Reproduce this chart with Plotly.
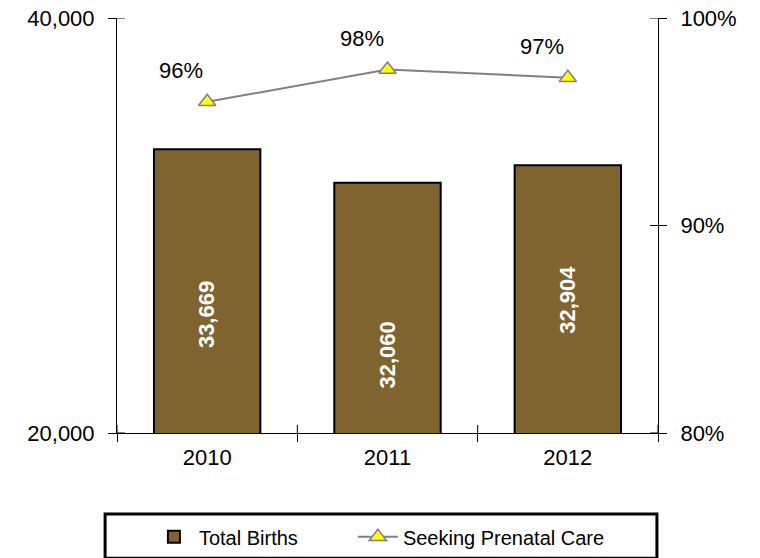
import plotly.graph_objects as go

# data
years = ["2010", "2011", "2012"]
total_births = [33669, 32060, 32904]
prenatal_share = [0.9596, 0.9752, 0.9712]

# where the white labels sit inside the bars (y, births axis units)
bar_label_y = [25690, 23760, 26410]

BROWN = "#806430"
FONT = "Liberation Sans, Arial, sans-serif"

fig = go.Figure()

fig.add_trace(go.Bar(
    x=years, y=total_births,
    name="Total Births",
    marker=dict(color=BROWN, line=dict(color="black", width=2)),
    width=0.59,
    legend="legend",
))

fig.add_trace(go.Scatter(
    x=years, y=prenatal_share,
    name="Seeking Prenatal Care",
    yaxis="y2",
    mode="lines+markers",
    line=dict(color="#808080", width=2),
    marker=dict(symbol="triangle-up", size=15, color="#FFFF00",
                line=dict(color="#808080", width=1.5)),
    legend="legend2",
))

# percent labels above-left of each point (category index as x)
for i, v in enumerate(prenatal_share):
    fig.add_annotation(
        x=i, y=v, xref="x", yref="y2", text=f"{v:.0%}", showarrow=False,
        xshift=-26, yshift=31,
        font=dict(family=FONT, size=22, color="black"),
    )

# rotated white value labels inside the bars
for i, (v, ly) in enumerate(zip(total_births, bar_label_y)):
    fig.add_annotation(
        x=i, y=ly, xref="x", yref="y", text=f"<b>{v:,}</b>", showarrow=False,
        textangle=-90,
        font=dict(family="Liberation Sans Narrow, Arial Narrow, Liberation Sans, sans-serif",
                  size=22, color="white"),
    )

# inner half of the crossing tick marks
tick_line = dict(color="black", width=1)
for v in [20000, 40000]:
    fig.add_shape(type="line", xref="paper", xsizemode="pixel", xanchor=0,
                  x0=0, x1=8, yref="y", y0=v, y1=v, line=tick_line)
for v in [0.8, 0.9, 1.0]:
    fig.add_shape(type="line", xref="paper", xsizemode="pixel", xanchor=1,
                  x0=-8, x1=0, yref="y2", y0=v, y1=v, line=tick_line)
for i in range(len(years) + 1):
    b = i / len(years)
    fig.add_shape(type="line", xref="x domain", x0=b, x1=b, yref="paper",
                  ysizemode="pixel", yanchor=0, y0=0, y1=8, line=tick_line)

# legend frame
fig.add_shape(type="rect", xref="paper", yref="paper",
              x0=-0.022, x1=0.998, y0=-0.302, y1=-0.195,
              line=dict(color="black", width=3), fillcolor="white", layer="below")

legend_style = dict(orientation="h", xanchor="left", y=-0.25, yanchor="middle",
                    font=dict(size=20), bgcolor="rgba(0,0,0,0)", itemwidth=40)

# page body adds an 8px offset, so the figure is 8px smaller than the window
fig.update_layout(
    width=752, height=550,
    margin=dict(l=109, r=102, t=10, b=125, autoexpand=False),
    plot_bgcolor="white", paper_bgcolor="white",
    font=dict(family=FONT, size=22, color="black"),
    showlegend=True,
    legend=dict(x=0.059, **legend_style),
    legend2=dict(x=0.436, **legend_style),
    bargap=0.41,
    xaxis=dict(type="category", range=[-0.5, 2.5], showline=True, linecolor="black",
               linewidth=1, ticks="outside", ticklen=8, tickcolor="black",
               tickson="boundaries", showgrid=False, tickfont=dict(size=22),
               tickangle=0, ticklabelstandoff=5, automargin=False),
    yaxis=dict(range=[20000, 40000], tickvals=[20000, 40000], tickformat=",",
               showline=True, linecolor="black", linewidth=1, ticks="outside",
               ticklen=8, tickcolor="black", showgrid=False, zeroline=False,
               tickfont=dict(size=22), ticklabelstandoff=9, automargin=False,
               ticklabeloverflow="allow"),
    yaxis2=dict(range=[0.8, 1.0], tickvals=[0.8, 0.9, 1.0], tickformat=".0%",
                overlaying="y", side="right", showline=True, linecolor="black",
                linewidth=1, ticks="outside", ticklen=8, tickcolor="black",
                showgrid=False, zeroline=False, tickfont=dict(size=22),
                ticklabelstandoff=9, automargin=False, ticklabeloverflow="allow"),
)

fig.write_html("out.html")
